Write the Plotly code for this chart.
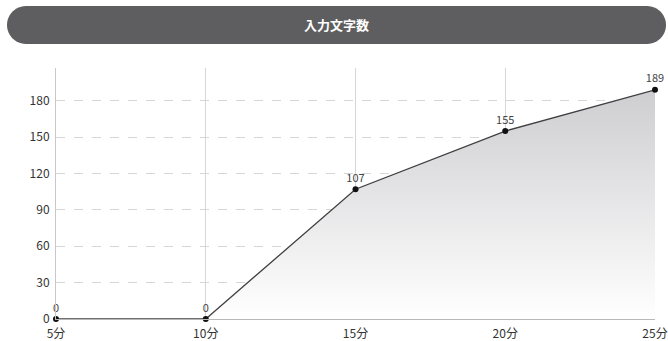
import math
import plotly.graph_objects as go

# Data
categories = [5, 10, 15, 20, 25]
tick_labels = ["5分", "10分", "15分", "20分", "25分"]
values = [0, 0, 107, 155, 189]
y_ticks = [0, 30, 60, 90, 120, 150, 180]
title_text = "入力文字数"

W, H = 668, 341
L, R, T, B = 56, 13, 68, 22
pw, ph = W - L - R, H - T - B

def to_paper(px, py):
    return (px - L) / pw, (H - B - py) / ph

# Rounded title bar path (pixel geometry -> paper coords)
bx0, bx1, by0, by1 = 7, 666, 6, 44
r = (by1 - by0) / 2
pts = []
cy = (by0 + by1) / 2
for i in range(0, 25):
    a = -math.pi / 2 + math.pi * i / 24
    pts.append((bx1 - r + r * math.cos(a), cy + r * math.sin(a)))
for i in range(0, 25):
    a = math.pi / 2 + math.pi * i / 24
    pts.append((bx0 + r + r * math.cos(a), cy + r * math.sin(a)))
path = ""
for i, (px, py) in enumerate(pts):
    x, y = to_paper(px, py)
    path += ("M" if i == 0 else "L") + f"{x:.5f},{y:.5f} "
path += "Z"

fig = go.Figure()
fig.add_trace(go.Scatter(
    x=categories, y=values,
    mode="lines+markers+text",
    line=dict(color="#3f3f41", width=1.3),
    marker=dict(color="#111111", size=6),
    text=[str(v) for v in values],
    textposition="top center",
    textfont=dict(family="Noto Sans CJK JP", size=11, color="#444444"),
    fill="tozeroy",
    fillgradient=dict(type="vertical", start=0, stop=189,
                      colorscale=[[0, "rgba(255,255,255,1)"], [1, "rgba(206,206,209,1)"]]),
    cliponaxis=False,
    hoverinfo="skip",
))

tx, ty = to_paper((bx0 + bx1) / 2, cy)
fig.update_layout(
    width=W, height=H,
    margin=dict(l=L, r=R, t=T, b=B, autoexpand=False),
    paper_bgcolor="white", plot_bgcolor="white",
    showlegend=False,
    font=dict(family="Noto Sans CJK JP", size=12, color="#333333"),
    shapes=[dict(type="path", path=path, xref="paper", yref="paper",
                 fillcolor="#5e5e60", line=dict(width=0), layer="above")],
    annotations=[dict(text="<b>" + title_text + "</b>", x=tx, y=ty, xref="paper", yref="paper",
                      showarrow=False, xanchor="center", yanchor="middle",
                      font=dict(family="Noto Sans CJK JP", size=13, color="white"))],
    xaxis=dict(range=[5, 25], tickvals=categories, ticktext=tick_labels,
               showgrid=True, gridcolor="#d6d6d6", gridwidth=1,
               showline=True, linecolor="#b8b8b8", linewidth=1,
               zeroline=False, ticks="", fixedrange=True, automargin=False,
               ticklabelstandoff=4,
               tickfont=dict(size=12, color="#333333")),
    yaxis=dict(range=[0, 207], tickvals=y_ticks,
               showgrid=True, gridcolor="#d6d6d6", griddash="dash", gridwidth=1,
               showline=True, linecolor="#c8c8c8", linewidth=1,
               zeroline=False, ticks="", fixedrange=True, automargin=False,
               ticklabelstandoff=3,
               tickfont=dict(size=12, color="#333333")),
)

fig.write_html("out.html")
